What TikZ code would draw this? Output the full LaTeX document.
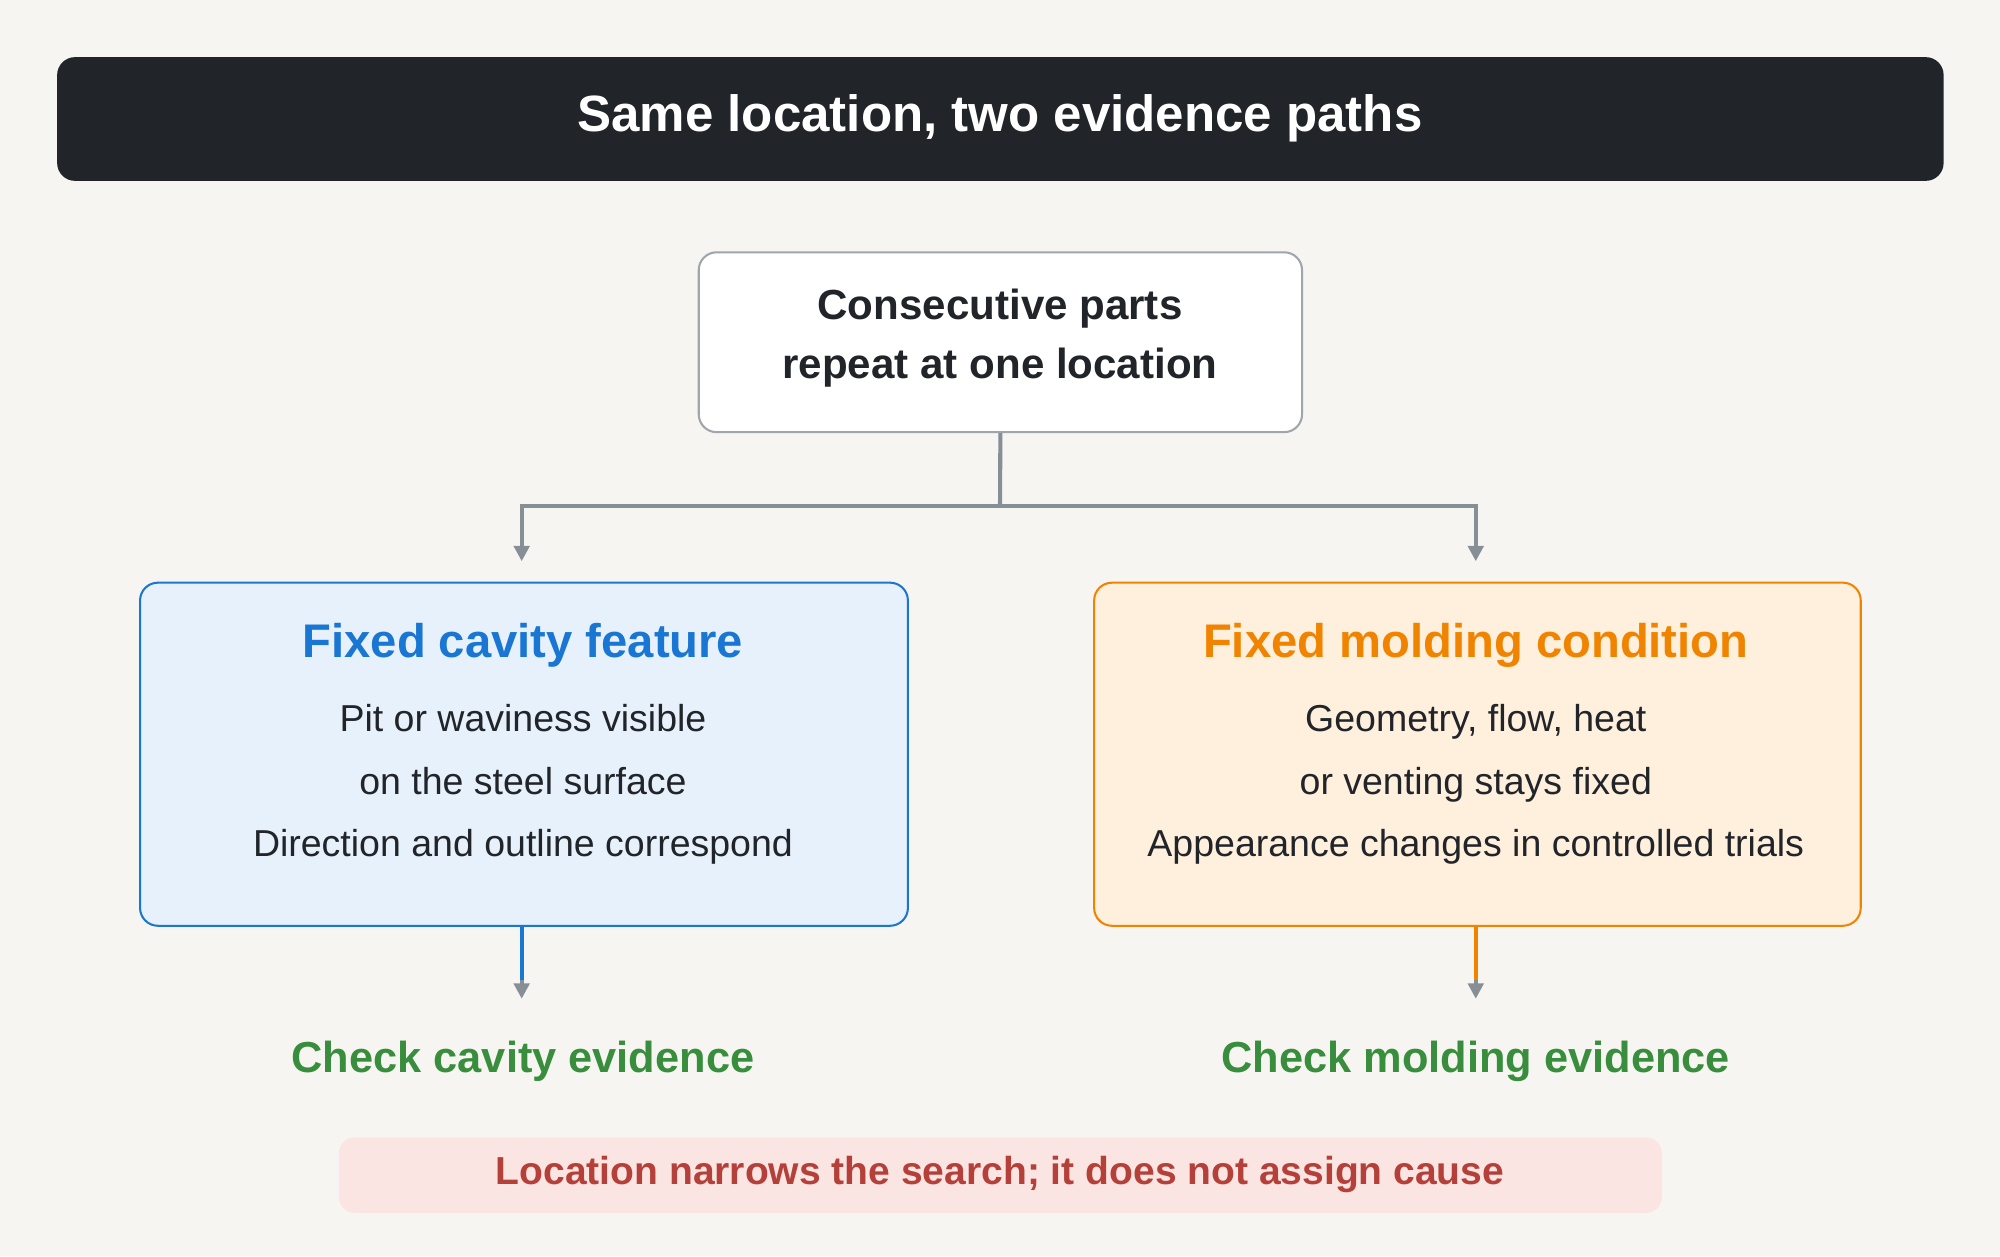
\documentclass[tikz,border=0pt]{standalone}
\usepackage{fontspec}
\setmainfont{Liberation Sans}
\usetikzlibrary{arrows.meta}
\definecolor{bg}{HTML}{F7F5F2}
\definecolor{dark}{HTML}{212529}
\definecolor{conn}{HTML}{868E96}
\definecolor{blu}{HTML}{1976D2}
\definecolor{blufill}{HTML}{E7F1FB}
\definecolor{org}{HTML}{F08400}
\definecolor{orgfill}{HTML}{FFEFDD}
\definecolor{grn}{HTML}{388E3C}
\definecolor{notefill}{HTML}{FAE5E3}
\definecolor{notetxt}{HTML}{B5403A}
\begin{document}
\begin{tikzpicture}[x=0.5pt,y=-0.5pt,
  box/.style={rounded corners=7pt,line width=0.8pt,anchor=north west,inner sep=0pt},
  conn/.style={draw=conn,line width=1.6pt},
  tip/.style={-{Triangle[length=6pt,width=6pt,color=conn,fill=conn]}},
  ttl/.style={font=\fontsize{18.5}{22}\selectfont\bfseries},
  body/.style={font=\fontsize{14.7}{24.5}\selectfont,text=dark,align=center},
  chk/.style={font=\fontsize{17}{20}\selectfont\bfseries,text=grn}]
\fill[bg] (0,0) rectangle (1568,985);
\useasboundingbox (0,0) rectangle (1568,985);
\node[box,fill=dark,minimum width=739.5pt,minimum height=48.5pt] (title) at (44,44) {};
\node[text=white,font=\fontsize{20}{24}\selectfont\bfseries] (tt) at (784,93) {Same location, two evidence paths};
\node[box,fill=white,draw=conn!80,minimum width=236.5pt,minimum height=70.5pt] (top) at (547,197) {};
\node[font=\fontsize{16.5}{23}\selectfont\bfseries,text=dark,align=center] (toptxt) at (784,265) {Consecutive parts\\repeat at one location};
\node[box,fill=blufill,draw=blu,minimum width=301pt,minimum height=134.5pt] (lb) at (109,456) {};
\node[box,fill=orgfill,draw=org,minimum width=300.5pt,minimum height=134.5pt] (rb) at (857,456) {};
\node[ttl,text=blu] (lt) at (410,506) {Fixed cavity feature};
\node[ttl,text=org] (rt) at (1157,506) {Fixed molding condition};
\node[body] (lbody) at (410,615) {Pit or waviness visible\\on the steel surface\\Direction and outline correspond};
\node[body] (rbody) at (1157,615) {Geometry, flow, heat\\or venting stays fixed\\Appearance changes in controlled trials};
\coordinate (j) at (784,397);
\coordinate (la) at (409,440);
\coordinate (ra) at (1157,440);
\draw[conn] (top.south) -- (j);
\draw[conn,tip] (j) -| (la);
\draw[conn,tip] (j) -| (ra);
\node[chk] (lc) at (410,832) {Check cavity evidence};
\node[chk] (rc) at (1157,832) {Check molding evidence};
\coordinate (lm) at (409,768);
\coordinate (rm) at (1157,768);
\draw[draw=blu,line width=1.6pt] (409,725) -- (lm);
\draw[draw=org,line width=1.6pt] (1157,725) -- (rm);
\draw[conn,tip] (lm) -- (409,783);
\draw[conn,tip] (rm) -- (1157,783);
\node[box,fill=notefill,draw=none,rounded corners=6pt,minimum width=518.5pt,minimum height=29.5pt] (note) at (265,891) {};
\node[font=\fontsize{15.3}{18}\selectfont\bfseries,text=notetxt] (notetxt) at (784,921) {Location narrows the search; it does not assign cause};
\end{tikzpicture}
\end{document}
